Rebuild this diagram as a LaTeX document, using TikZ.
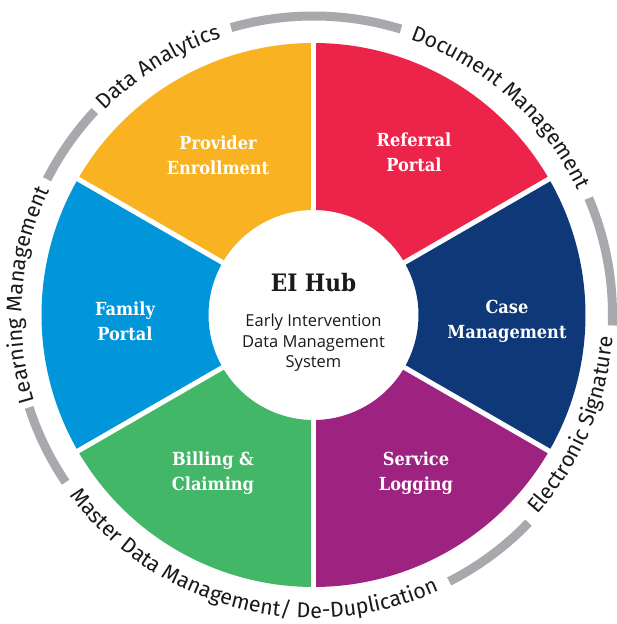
\documentclass[tikz,border=0pt]{standalone}
\usepackage{fontspec}
\usetikzlibrary{decorations.text}
\newfontfamily\ringfont{Fira Sans}
\newfontfamily\centerfont{Open Sans}
\newfontfamily\slabfont{DejaVu Serif Condensed}
\definecolor{cYellow}{HTML}{F9B322}
\definecolor{cRed}{HTML}{EC2449}
\definecolor{cNavy}{HTML}{0E3877}
\definecolor{cPurple}{HTML}{9E2380}
\definecolor{cGreen}{HTML}{42B767}
\definecolor{cBlue}{HTML}{0096D9}
\definecolor{cGray}{HTML}{A7A9AC}
\definecolor{cText}{HTML}{1A1A1A}
\tikzset{
  seglabel/.style={text=white, align=center, font=\slabfont\bfseries\fontsize{18}{25}\selectfont},
  grayarc/.style={draw=cGray, line width=9pt},
  gapline/.style={draw=white, line width=5pt},
  ringtext/.style={decorate, decoration={text along path, text align=center, text color=cText, text={#1}}},
}
\newcommand{\ringsz}{\ringfont\fontsize{21.5}{21.5}\selectfont}
\begin{document}
\begin{tikzpicture}[x=1pt,y=1pt]
\useasboundingbox[fill=white] (0,0) rectangle (616,624);
\begin{scope}[shift={(313.5,309)}]
  % sectors
  \fill[cNavy]   (-30:105) arc[start angle=-30,end angle=30,radius=105] -- (30:272) arc[start angle=30,end angle=-30,radius=272] -- cycle;
  \fill[cRed]    (30:105) arc[start angle=30,end angle=90,radius=105] -- (90:272) arc[start angle=90,end angle=30,radius=272] -- cycle;
  \fill[cYellow] (90:105) arc[start angle=90,end angle=150,radius=105] -- (150:272) arc[start angle=150,end angle=90,radius=272] -- cycle;
  \fill[cBlue]   (150:105) arc[start angle=150,end angle=210,radius=105] -- (210:272) arc[start angle=210,end angle=150,radius=272] -- cycle;
  \fill[cGreen]  (210:105) arc[start angle=210,end angle=270,radius=105] -- (270:272) arc[start angle=270,end angle=210,radius=272] -- cycle;
  \fill[cPurple] (270:105) arc[start angle=270,end angle=330,radius=105] -- (330:272) arc[start angle=330,end angle=270,radius=272] -- cycle;
  % gaps
  \foreach \a in {30,90,150,210,270,330} \draw[gapline] (\a:100) -- (\a:276);
  % gray arcs
  \draw[grayarc] (73:299) arc[start angle=73,end angle=106,radius=299];
  \draw[grayarc] (137:299) arc[start angle=137,end angle=153,radius=299];
  \draw[grayarc] (198:299) arc[start angle=198,end angle=214,radius=299];
  \draw[grayarc] (297:299) arc[start angle=297,end angle=316,radius=299];
  \draw[grayarc] (-2:299) arc[start angle=-2,end angle=23,radius=299];
  % ring texts
  \path[ringtext={|\ringsz|Data Analytics}] (167:292) arc[start angle=167,end angle=77,radius=292];
  \path[ringtext={|\ringsz|Document Management}] (93:292) arc[start angle=93,end angle=3,radius=292];
  \path[ringtext={|\ringsz|Electronic Signature}] (-68:300) arc[start angle=-68,end angle=22,radius=300];
  \path[ringtext={|\ringsz|Master Data Management/ De-Duplication}] (195:303) arc[start angle=195,end angle=316,radius=303];
  \path[ringtext={|\ringsz|Learning Management}] (221:292) arc[start angle=221,end angle=131,radius=292];
  % labels
  \node[seglabel] (provider) at (-95.5,159.5) {Provider\\Enrollment};
  \node[seglabel] (referral) at (100.5,162.5) {Referral\\Portal};
  \node[seglabel] (case) at (193.5,-6.5) {Case\\Management};
  \node[seglabel] (family) at (-188.5,-6.5) {Family\\Portal};
  \node[seglabel] (billing) at (-100.5,-158.5) {Billing \&\\Claiming};
  \node[seglabel] (service) at (102.5,-158.5) {Service\\Logging};
  % center
  \node[anchor=base, text=cText, font=\slabfont\bfseries\fontsize{24}{24}\selectfont] (hub) at (0,23.3) {EI Hub};
  \node[anchor=base, text=cText, font=\centerfont\fontsize{16.5}{16.5}\selectfont] (l1) at (0,-12) {Early Intervention};
  \node[anchor=base, text=cText, font=\centerfont\fontsize{16.5}{16.5}\selectfont] (l2) at (0,-32.5) {Data Management};
  \node[anchor=base, text=cText, font=\centerfont\fontsize{16.5}{16.5}\selectfont] (l3) at (0,-53) {System};
\end{scope}
\end{tikzpicture}
\end{document}
